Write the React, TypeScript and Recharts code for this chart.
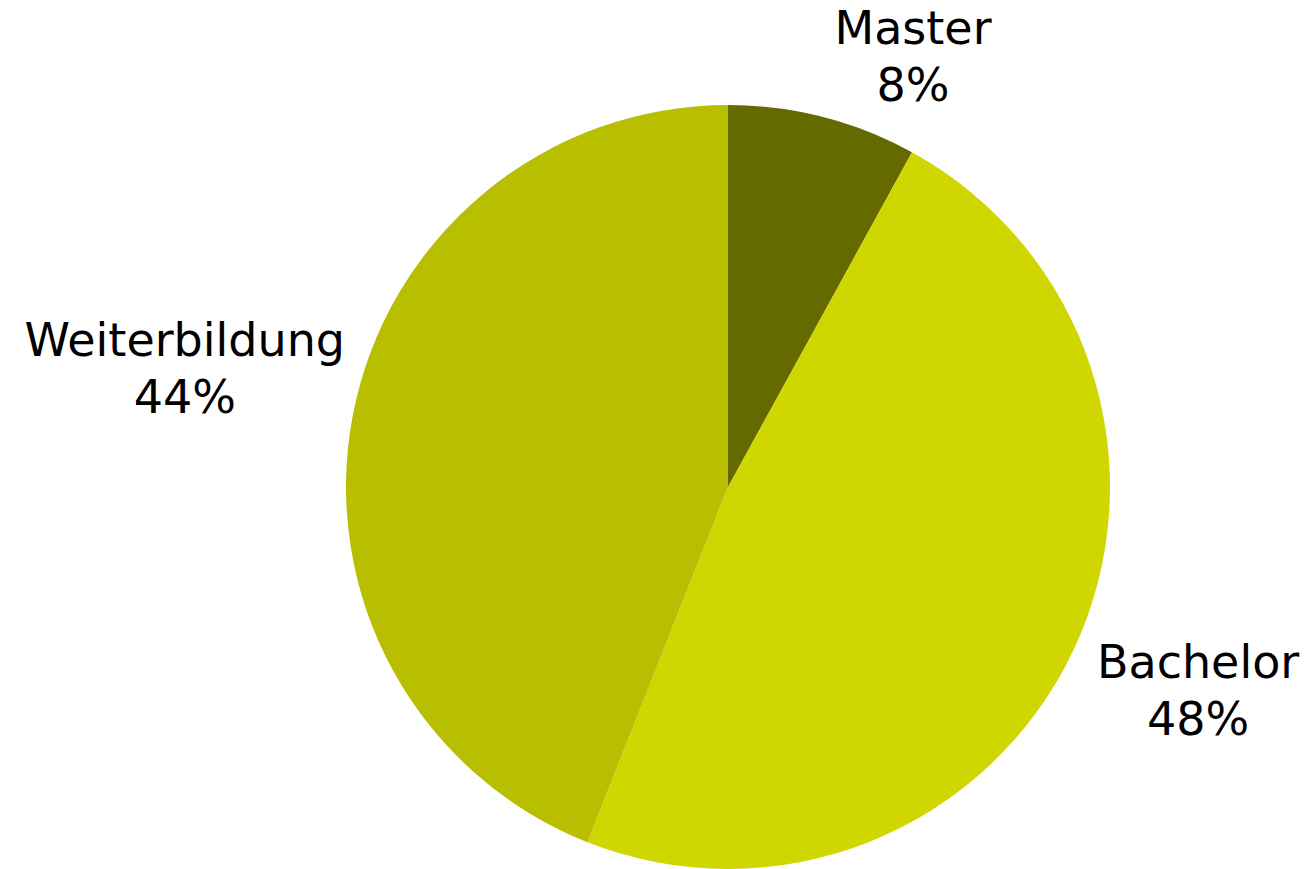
import React from "react";
import { PieChart, Pie, Cell } from "recharts";

const categories = ["Master", "Bachelor", "Weiterbildung"];
const shares = [8, 48, 44];
const COLORS = ["#646a00", "#d0d600", "#b8bf00"];

const data = categories.map((name, i) => ({ name, value: shares[i] }));

const FONT = "DejaVu Sans, Verdana, sans-serif";
const FONT_SIZE = 46;
const LINE = 57;

function textWidth(s) {
  try {
    const ctx = document.createElement("canvas").getContext("2d");
    ctx.font = `${FONT_SIZE}px "DejaVu Sans"`;
    return ctx.measureText(s).width;
  } catch (e) {
    return s.length * FONT_SIZE * 0.55;
  }
}

// Excel-like placement: the box corner nearest the pie sits on the mid-angle ray
function renderLabel(props) {
  const { cx, cy, midAngle, outerRadius, name, percent } = props;
  const RAD = Math.PI / 180;
  const r = outerRadius + 18;
  const cos = Math.cos(midAngle * RAD);
  const sin = Math.sin(midAngle * RAD);
  const ax = cx + r * cos;
  const ay = cy - r * sin;
  const pct = `${Math.round(percent * 100)}%`;
  const w = Math.max(textWidth(name), textWidth(pct));
  const x = cos >= 0 ? ax + w / 2 + 7 : ax - w / 2 + 10;
  const y1 = sin >= 0 ? ay - LINE + 1 : ay + 21;
  return (
    <text
      x={x}
      y={y1}
      textAnchor="middle"
      fill="#000"
      fontFamily={FONT}
      fontSize={FONT_SIZE}
    >
      <tspan x={x} y={y1}>{name}</tspan>
      <tspan x={x} y={y1 + LINE}>{pct}</tspan>
    </text>
  );
}

export default function App() {
  return (
    <div style={{ position: "absolute", left: 0, top: 0, width: 1314, height: 869 }}>
      <PieChart
        width={1314}
        height={869}
        margin={{ top: 0, right: 0, bottom: 0, left: 0 }}
      >
        <Pie
          data={data}
          dataKey="value"
          nameKey="name"
          cx={728}
          cy={487}
          outerRadius={382}
          startAngle={90}
          endAngle={-270}
          stroke="none"
          label={renderLabel}
          labelLine={false}
          isAnimationActive={false}
        >
          {data.map((entry, index) => (
            <Cell key={index} fill={COLORS[index % COLORS.length]} />
          ))}
        </Pie>
      </PieChart>
    </div>
  );
}
